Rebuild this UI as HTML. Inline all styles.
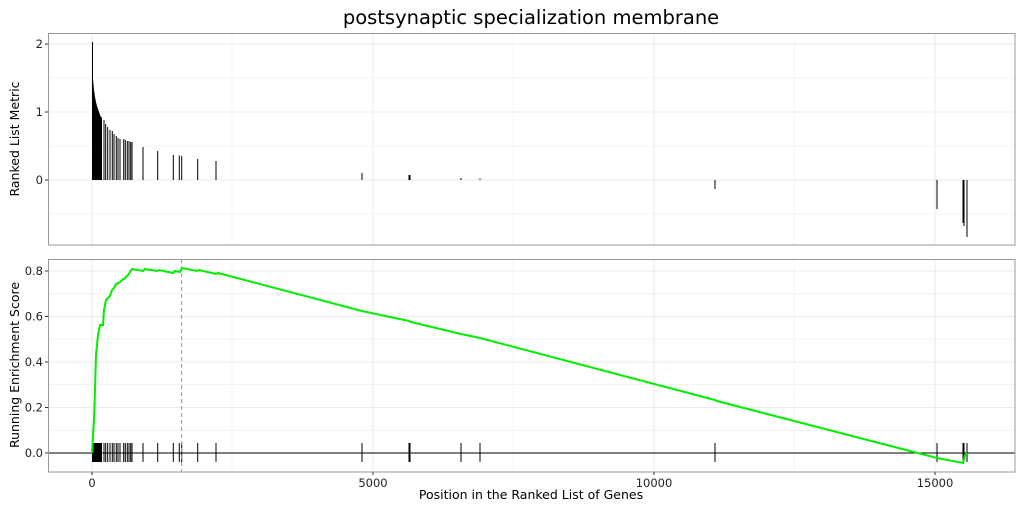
<!DOCTYPE html>
<html><head><meta charset="utf-8"><style>body{margin:0;background:#fff}svg{display:block}text{font-family:"DejaVu Sans","Liberation Sans",sans-serif}</style></head><body>
<svg width="1024" height="512" viewBox="0 0 1024 512" xmlns="http://www.w3.org/2000/svg">
<rect width="1024" height="512" fill="#fff"/>
<text x="531" y="24" font-size="19.5" text-anchor="middle" fill="#000">postsynaptic specialization membrane</text>
<g stroke="#ebebeb" stroke-width="0.6">
<line x1="232" y1="33" x2="232" y2="245"/><line x1="513" y1="33" x2="513" y2="245"/><line x1="794" y1="33" x2="794" y2="245"/>
<line x1="48" y1="78" x2="1015" y2="78"/><line x1="48" y1="146" x2="1015" y2="146"/><line x1="48" y1="214" x2="1015" y2="214"/>
<line x1="232" y1="259" x2="232" y2="472"/><line x1="513" y1="259" x2="513" y2="472"/><line x1="794" y1="259" x2="794" y2="472"/>
<line x1="48" y1="293.7" x2="1015" y2="293.7"/><line x1="48" y1="339.2" x2="1015" y2="339.2"/><line x1="48" y1="384.7" x2="1015" y2="384.7"/><line x1="48" y1="430.2" x2="1015" y2="430.2"/>
</g>
<g stroke="#ebebeb" stroke-width="1.1">
<line x1="92" y1="33" x2="92" y2="245"/><line x1="373" y1="33" x2="373" y2="245"/><line x1="654" y1="33" x2="654" y2="245"/><line x1="935" y1="33" x2="935" y2="245"/>
<line x1="48" y1="44" x2="1015" y2="44"/><line x1="48" y1="112" x2="1015" y2="112"/><line x1="48" y1="180" x2="1015" y2="180"/>
<line x1="92" y1="259" x2="92" y2="472"/><line x1="373" y1="259" x2="373" y2="472"/><line x1="654" y1="259" x2="654" y2="472"/><line x1="935" y1="259" x2="935" y2="472"/>
<line x1="48" y1="271" x2="1015" y2="271"/><line x1="48" y1="316.5" x2="1015" y2="316.5"/><line x1="48" y1="362" x2="1015" y2="362"/><line x1="48" y1="407.5" x2="1015" y2="407.5"/>
</g>
<polygon points="92,180 92,42 93,42 93,79 94,90 95,97 96,102 97,106 98,109 99,112 100,115 101,117 102,118 102,180" fill="#000"/>
<g stroke="#000" stroke-width="1">
<line x1="104" y1="180" x2="104" y2="120"/><line x1="105.7" y1="180" x2="105.7" y2="124"/><line x1="107.7" y1="180" x2="107.7" y2="127"/>
<line x1="110" y1="180" x2="110" y2="130"/><line x1="112.3" y1="180" x2="112.3" y2="131"/><line x1="114" y1="180" x2="114" y2="134"/>
<line x1="116.3" y1="180" x2="116.3" y2="136"/><line x1="118" y1="180" x2="118" y2="138"/><line x1="120" y1="180" x2="120" y2="139"/>
<line x1="123.7" y1="180" x2="123.7" y2="139"/><line x1="125.3" y1="180" x2="125.3" y2="140"/><line x1="127.3" y1="180" x2="127.3" y2="141"/>
<line x1="129" y1="180" x2="129" y2="141"/><line x1="130.7" y1="180" x2="130.7" y2="142"/><line x1="132" y1="180" x2="132" y2="142"/>
<line x1="143" y1="180" x2="143" y2="147"/><line x1="157.7" y1="180" x2="157.7" y2="151"/><line x1="173.3" y1="180" x2="173.3" y2="155"/>
<line x1="179.3" y1="180" x2="179.3" y2="155.5"/><line x1="181.7" y1="180" x2="181.7" y2="156"/><line x1="197.7" y1="180" x2="197.7" y2="159"/>
<line x1="216" y1="180" x2="216" y2="161"/><line x1="362" y1="180" x2="362" y2="173"/><line x1="409" y1="180" x2="409" y2="175"/>
<line x1="410" y1="180" x2="410" y2="175"/><line x1="461" y1="180" x2="461" y2="178"/><line x1="480" y1="180" x2="480" y2="178.5"/>
<line x1="715" y1="180" x2="715" y2="189"/><line x1="937" y1="180" x2="937" y2="209"/><line x1="963" y1="180" x2="963" y2="223"/>
<line x1="964" y1="180" x2="964" y2="226"/><line x1="967" y1="180" x2="967" y2="237"/>
</g>
<rect x="48.5" y="33.5" width="966.5" height="211.5" fill="none" stroke="#999" stroke-width="1"/>
<line x1="48" y1="453" x2="1015" y2="453" stroke="#000" stroke-width="1"/>
<rect x="92" y="443" width="10" height="19" fill="#000"/>
<g stroke="#000" stroke-width="1">
<line x1="104" y1="443" x2="104" y2="462"/><line x1="105.7" y1="443" x2="105.7" y2="462"/><line x1="107.7" y1="443" x2="107.7" y2="462"/><line x1="110" y1="443" x2="110" y2="462"/><line x1="112.3" y1="443" x2="112.3" y2="462"/><line x1="114" y1="443" x2="114" y2="462"/><line x1="116.3" y1="443" x2="116.3" y2="462"/><line x1="118" y1="443" x2="118" y2="462"/><line x1="120" y1="443" x2="120" y2="462"/><line x1="123.7" y1="443" x2="123.7" y2="462"/><line x1="125.3" y1="443" x2="125.3" y2="462"/><line x1="127.3" y1="443" x2="127.3" y2="462"/><line x1="129" y1="443" x2="129" y2="462"/><line x1="130.7" y1="443" x2="130.7" y2="462"/><line x1="132" y1="443" x2="132" y2="462"/><line x1="143" y1="443" x2="143" y2="462"/><line x1="157.7" y1="443" x2="157.7" y2="462"/><line x1="173.3" y1="443" x2="173.3" y2="462"/><line x1="179.3" y1="443" x2="179.3" y2="462"/><line x1="181.7" y1="443" x2="181.7" y2="462"/><line x1="197.7" y1="443" x2="197.7" y2="462"/><line x1="216" y1="443" x2="216" y2="462"/><line x1="362" y1="443" x2="362" y2="462"/><line x1="409" y1="443" x2="409" y2="462"/><line x1="410" y1="443" x2="410" y2="462"/><line x1="461" y1="443" x2="461" y2="462"/><line x1="480" y1="443" x2="480" y2="462"/><line x1="715" y1="443" x2="715" y2="462"/><line x1="937" y1="443" x2="937" y2="462"/><line x1="963" y1="443" x2="963" y2="462"/><line x1="964" y1="443" x2="964" y2="462"/><line x1="967" y1="443" x2="967" y2="462"/>
</g>
<line x1="181.6" y1="259" x2="181.6" y2="472" stroke="#999" stroke-width="1" stroke-dasharray="4,3"/>
<polyline fill="none" stroke="#00ee00" stroke-width="2" points="92,453 94,420 95,390 96,355 98,335 100,325 103,325 104,310 106,300 108,298 110,296 112,290 114,288 116,284 118,283 120,282 122,280 124,279 126,277 128,275 130,272 132,269 143,271 145,269 157,271 159,270 173,273 175,271 180,272 182,268 197,271 199,270 216,274 218,273 362,311 409,321 411,322 461,334 480,338 715,400 717,401 937,458 963,463 965,455 967,453"/>
<rect x="48.5" y="259.5" width="966.5" height="212.5" fill="none" stroke="#999" stroke-width="1"/>
<g font-size="11.5" fill="#222" text-anchor="end">
<text x="43" y="48">2</text><text x="43" y="116">1</text><text x="43" y="184">0</text>
<text x="43" y="275">0.8</text><text x="43" y="320.5">0.6</text><text x="43" y="366">0.4</text><text x="43" y="411.5">0.2</text><text x="43" y="457">0.0</text>
</g>
<g stroke="#333"><line x1="45" y1="44" x2="48" y2="44"/><line x1="45" y1="112" x2="48" y2="112"/><line x1="45" y1="180" x2="48" y2="180"/>
<line x1="45" y1="271" x2="48" y2="271"/><line x1="45" y1="316.5" x2="48" y2="316.5"/><line x1="45" y1="362" x2="48" y2="362"/><line x1="45" y1="407.5" x2="48" y2="407.5"/><line x1="45" y1="453" x2="48" y2="453"/>
<line x1="92" y1="472" x2="92" y2="475"/><line x1="373" y1="472" x2="373" y2="475"/><line x1="654" y1="472" x2="654" y2="475"/><line x1="935" y1="472" x2="935" y2="475"/></g>
<g font-size="11.5" fill="#222" text-anchor="middle">
<text x="92" y="487">0</text><text x="373" y="487">5000</text><text x="654" y="487">10000</text><text x="935" y="487">15000</text>
</g>
<text x="531" y="499" font-size="12.5" text-anchor="middle" fill="#000">Position in the Ranked List of Genes</text>
<text transform="translate(19,139) rotate(-90)" font-size="12.5" text-anchor="middle" fill="#000">Ranked List Metric</text>
<text transform="translate(19,365) rotate(-90)" font-size="12.5" text-anchor="middle" fill="#000">Running Enrichment Score</text>
</svg>
</body></html>
